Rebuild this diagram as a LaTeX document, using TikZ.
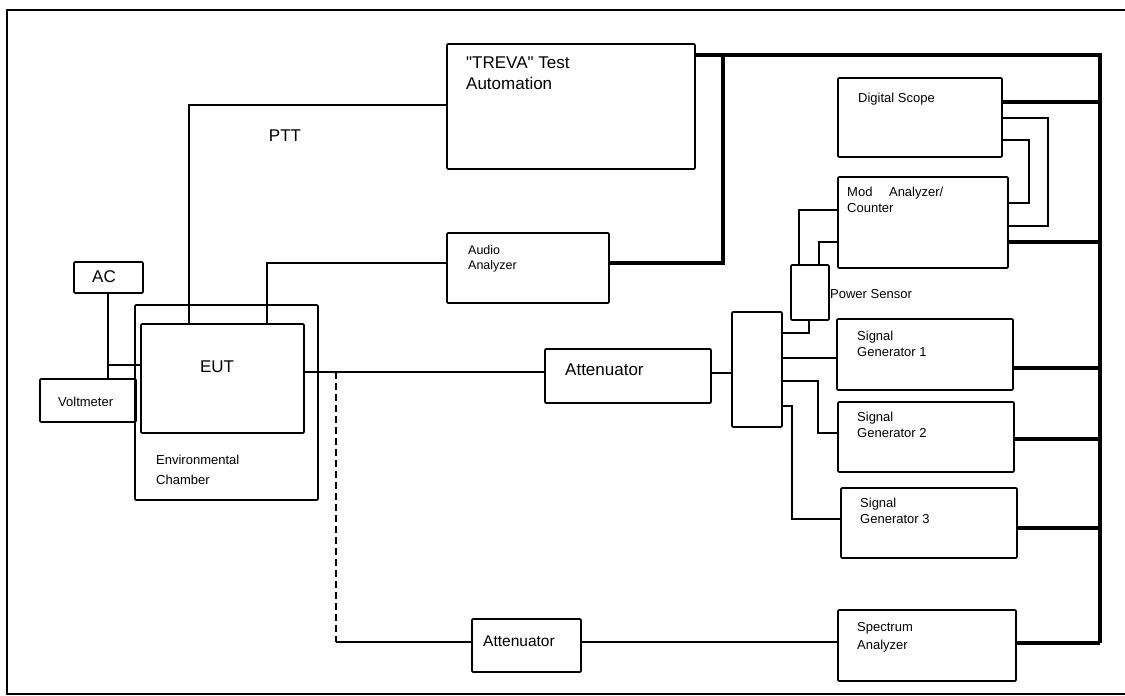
\documentclass[tikz,border=0pt]{standalone}
\usepackage{fontspec}
\setmainfont{Liberation Sans}[Ligatures=TeXOff]
\usetikzlibrary{fit}
\begin{document}
\begin{tikzpicture}[x=1pt,y=-1pt,
  box/.style={draw, line width=1.6pt, inner sep=0pt, rounded corners=1pt},
  wire/.style={line width=1.3pt},
  bus/.style={line width=3.2pt},
  big/.style={font=\fontsize{17}{21}\selectfont, inner sep=0pt, align=left},
  small/.style={font=\fontsize{13}{16}\selectfont, inner sep=0pt, align=left, anchor=north west}]
\useasboundingbox (0,0) rectangle (1125,696);
% frame
\draw[line width=1.6pt] (1130,10) -- (7,10) -- (7,694) -- (1130,694);
% boxes
\node[box, fit={(447,44) (695,169)}] (treva) {};
\node[box, fit={(74,262) (143,293)}] (ac) {};
\node[box, fit={(40,379) (136,422)}] (volt) {};
\node[box, fit={(135,305) (318,500)}] (chamber) {};
\node[box, fit={(141,324) (304,433)}] (eut) {};
\node[box, fit={(447,233) (609,303)}] (audio) {};
\node[box, fit={(545,349) (711,403)}] (att1) {};
\node[box, fit={(472,619) (581,672)}] (att2) {};
\node[box, fit={(838,78) (1002,157)}] (scope) {};
\node[box, fit={(838,177) (1008,268)}] (mod) {};
\node[box, fit={(791,265) (829,320)}] (power) {};
\node[box, fit={(732,312) (782,427)}] (split) {};
\node[box, fit={(837,319) (1013,390)}] (sg1) {};
\node[box, fit={(838,402) (1014,472)}] (sg2) {};
\node[box, fit={(841,488) (1017,558)}] (sg3) {};
\node[box, fit={(838,610) (1016,681)}] (spec) {};
% texts
\node[big, anchor=north west] (trevat) at (466,57) {"TREVA" Test\\Automation};
\node[big, anchor=base] (eutt) at (217,372) {EUT};
\node[big, anchor=base] (pttt) at (285,141) {PTT};
\node[big, anchor=base] (act) at (104,282) {AC};
\node[big, anchor=base west] (att1t) at (565,375) {Attenuator};
\node[big, anchor=base west, font=\fontsize{15.5}{19}\selectfont] (att2t) at (483,646) {Attenuator};
\node[small, anchor=west] (voltt) at (58,402) {Voltmeter};
\node[small, font=\fontsize{13}{20}\selectfont] (chamt) at (156,455) {Environmental\\Chamber};
\node[small, font=\fontsize{12.5}{15}\selectfont] (audiot) at (468,245) {Audio\\Analyzer};
\node[small] (scopet) at (858,93) {Digital Scope};
\node[small] (modt) at (847,187) {Mod\quad\ Analyzer/\\Counter};
\node[small] (powert) at (830,289) {Power Sensor};
\node[small] (sg1t) at (857,331) {Signal\\Generator 1};
\node[small] (sg2t) at (857,412) {Signal\\Generator 2};
\node[small] (sg3t) at (860,498) {Signal\\Generator 3};
\node[small, font=\fontsize{13}{18}\selectfont] (spect) at (857,622) {Spectrum\\Analyzer};
% coordinates
\coordinate (pttc) at (189,105);
\coordinate (audc) at (267,263);
\coordinate (tb) at (723,55);
\coordinate (bustop) at (1100,55);
\coordinate (busbot) at (1100,643);
\coordinate (b1) at (1100,102);
\coordinate (b2) at (1100,242);
\coordinate (b3) at (1100,368);
\coordinate (b4) at (1100,439);
\coordinate (b5) at (1100,528);
\coordinate (l1) at (1048,118);
\coordinate (l1b) at (1048,226);
\coordinate (l2) at (1029,140);
\coordinate (l2b) at (1029,203);
\coordinate (p1) at (799,210);
\coordinate (p2) at (819,242);
\coordinate (s0) at (809,333);
\coordinate (s1) at (800,358);
\coordinate (s2a) at (818,381);
\coordinate (s2b) at (818,433);
\coordinate (s3a) at (792,406);
\coordinate (s3b) at (792,519);
\coordinate (a1) at (720,373);
\coordinate (e1) at (336,372);
\coordinate (d1) at (336,642);
\coordinate (acx) at (108,365);
% wires
\draw[wire] (eut.north -| pttc) -- (pttc) -- (pttc -| treva.west);
\draw[wire] (eut.north -| audc) -- (audc) -- (audc -| audio.west);
\draw[bus] (audc -| audio.east) -- (audc -| tb) -- (tb);
\draw[bus] (bustop -| treva.east) -- (bustop) -- (busbot);
\draw[bus] (b1 -| scope.east) -- (b1);
\draw[bus] (b2 -| mod.east) -- (b2);
\draw[bus] (b3 -| sg1.east) -- (b3);
\draw[bus] (b4 -| sg2.east) -- (b4);
\draw[bus] (b5 -| sg3.east) -- (b5);
\draw[bus] (busbot -| spec.east) -- (busbot);
\draw[wire] (l1 -| scope.east) -- (l1) -- (l1b) -- (l1b -| mod.east);
\draw[wire] (l2 -| scope.east) -- (l2) -- (l2b) -- (l2b -| mod.east);
\draw[wire] (p1 |- power.north) -- (p1) -- (p1 -| mod.west);
\draw[wire] (p2 |- power.north) -- (p2) -- (p2 -| mod.west);
\draw[wire] (s0 -| split.east) -- (s0) -- (s0 |- power.south);
\draw[wire] (s1 -| split.east) -- (s1 -| sg1.west);
\draw[wire] (s2a -| split.east) -- (s2a) -- (s2b) -- (s2b -| sg2.west);
\draw[wire] (s3a -| split.east) -- (s3a) -- (s3b) -- (s3b -| sg3.west);
\draw[wire] (a1 -| att1.east) -- (a1 -| split.west);
\draw[wire] (e1 -| eut.east) -- (e1 -| att1.west);
\draw[line width=1.8pt, dash pattern=on 7pt off 4pt] (e1) -- (d1);
\draw[wire] (d1) -- (d1 -| att2.west);
\draw[wire] (d1 -| att2.east) -- (d1 -| spec.west);
\draw[wire] (ac.south -| acx) -- (acx |- volt.north);
\draw[wire] (acx) -- (acx -| eut.west);
\end{tikzpicture}
\end{document}
